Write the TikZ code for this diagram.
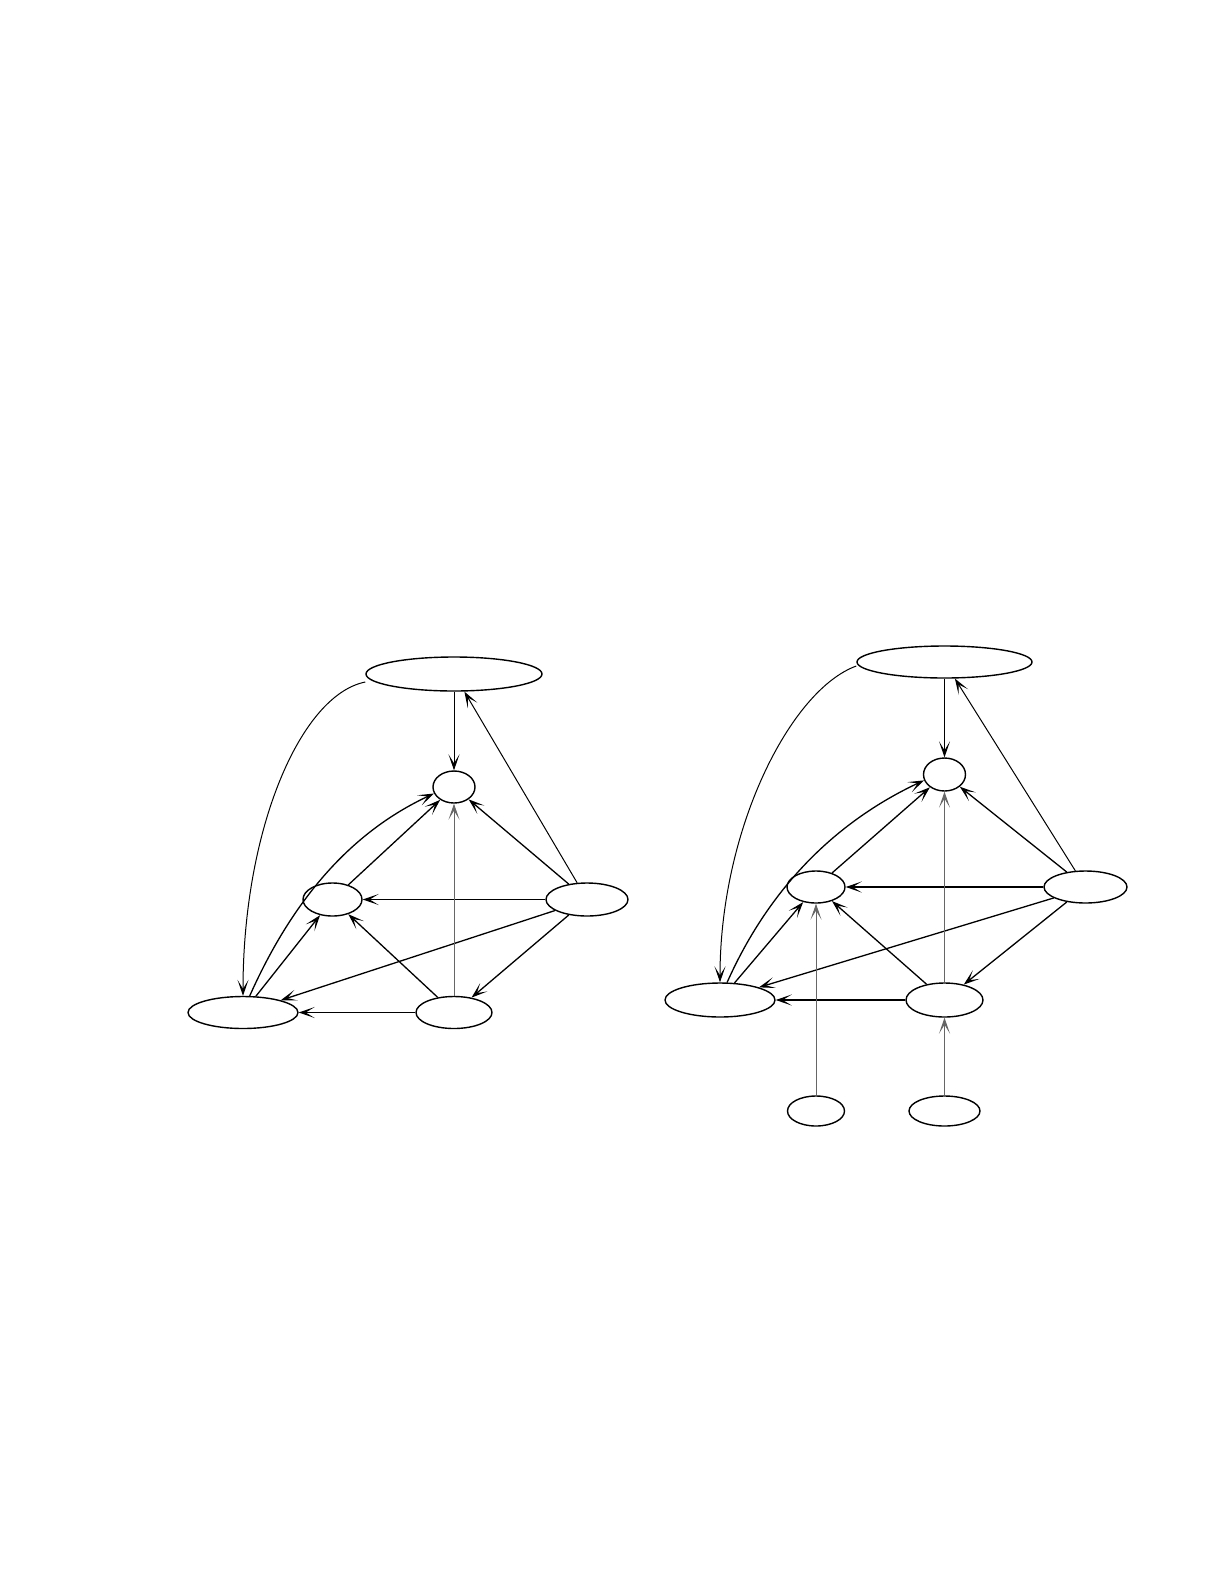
\documentclass[tikz,border=0pt]{standalone}
\usetikzlibrary{shapes.geometric,arrows.meta}
\begin{document}
\begin{tikzpicture}[x=0.5bp, y=0.5bp,
    vert/.style 2 args={ellipse, draw, line width=0.7bp, inner sep=0pt, minimum width=#1, minimum height=#2},
    edge/.style={-{Stealth[length=8bp,width=5.5bp,inset=4.5bp]}, line width=0.65bp},
    faint/.style={edge, line width=0.5bp},
    grey/.style={edge, line width=0.5bp, draw=black!60},
    heavy/.style={edge, line width=1.3bp}]
        \useasboundingbox (0,0) rectangle (1225,-1585);
        % Left graph
        \node[vert={88bp}{17bp}] (top1) at (454,-674) {};
        \node[vert={21bp}{16bp}] (hub1) at (454,-787) {};
        \node[vert={29.5bp}{16.5bp}] (mid1) at (332.5,-899.5) {};
        \node[vert={41bp}{16.5bp}] (right1) at (587,-899.5) {};
        \node[vert={55bp}{16bp}] (left1) at (243,-1012.5) {};
        \node[vert={38bp}{16bp}] (low1) at (454,-1012.5) {};
        \draw[faint] (top1) -- (hub1);
        \draw[faint] ([yshift=-4bp]top1.west) .. controls +(-65,-13) and +(0,166) .. (left1.north);
        \draw[faint] (right1) -- (top1);
        \draw[edge] (right1) -- (hub1);
        \draw[edge] (right1) -- (mid1);
        \draw[edge] (right1.199) -- (left1.18);
        \draw[edge] (right1) -- (low1);
        \draw[grey] (low1) -- (hub1);
        \draw[edge] (low1) -- (mid1);
        \draw[edge] (low1) -- (left1);
        \draw[edge] (mid1) -- (hub1);
        \draw[edge] (left1) -- (mid1);
        \draw[edge] (left1.68) .. controls +(66:120) and +(205:80) .. (hub1.198);
        % Right graph
        \node[vert={87.5bp}{16bp}] (top2) at (944.5,-662) {};
        \node[vert={21bp}{16.5bp}] (hub2) at (944.5,-774.5) {};
        \node[vert={29bp}{16bp}] (mid2) at (816,-887) {};
        \node[vert={41.5bp}{16bp}] (right2) at (1085.5,-887) {};
        \node[vert={55bp}{17bp}] (left2) at (720,-1000) {};
        \node[vert={38.5bp}{17bp}] (low2) at (944.5,-1000) {};
        % Sources
        \node[vert={28.5bp}{15bp}] (src1) at (816,-1111) {};
        \node[vert={35.5bp}{15bp}] (src2) at (944.5,-1111) {};
        \draw[faint] (top2) -- (hub2);
        \draw[faint] ([yshift=-2bp]top2.west) .. controls +(-66,-24) and +(0,153) .. (left2.north);
        \draw[faint] (right2) -- (top2);
        \draw[edge] (right2) -- (hub2);
        \draw[heavy] (right2) -- (mid2);
        \draw[edge] (right2.199) -- (left2.18);
        \draw[edge] (right2) -- (low2);
        \draw[grey] (low2) -- (hub2);
        \draw[edge] (low2) -- (mid2);
        \draw[heavy] (low2) -- (left2);
        \draw[edge] (mid2) -- (hub2);
        \draw[edge] (left2) -- (mid2);
        \draw[edge] (left2.68) .. controls +(66:120) and +(205:80) .. (hub2.196);
        \draw[grey] (src1) -- (mid2);
        \draw[grey] (src2) -- (low2);
\end{tikzpicture}
\end{document}
